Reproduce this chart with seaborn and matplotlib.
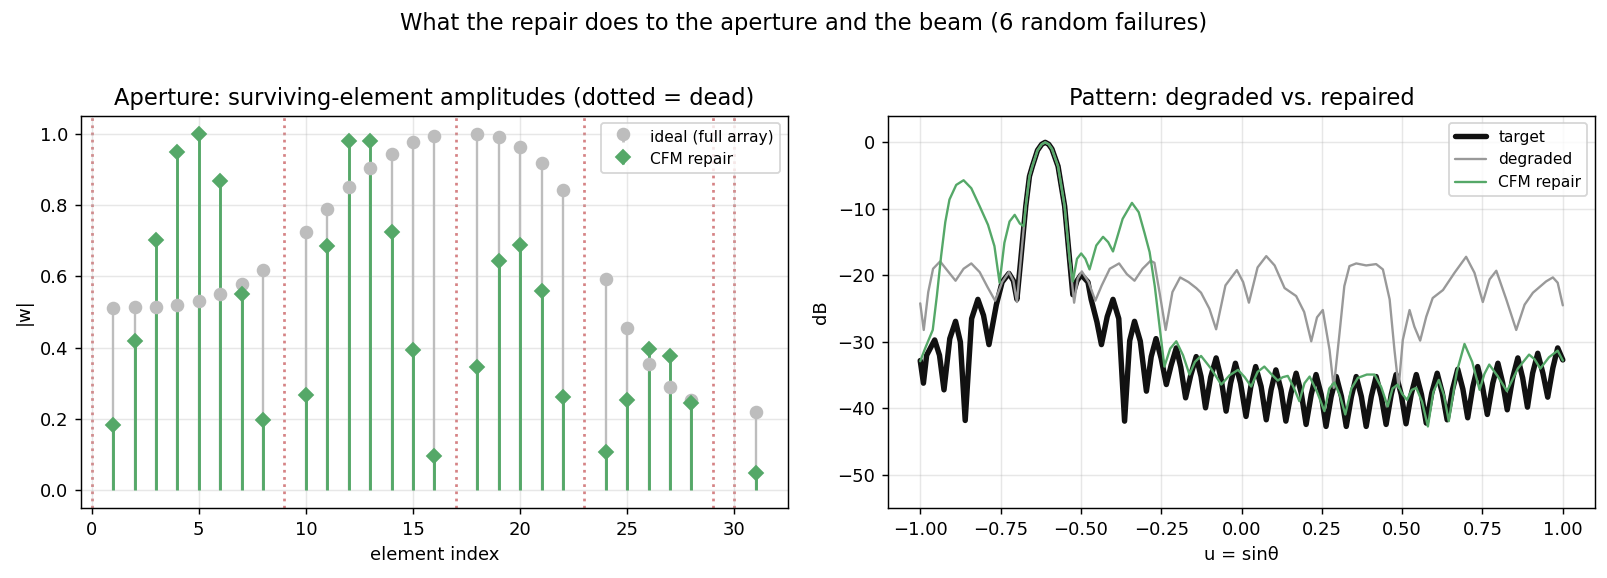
import matplotlib
matplotlib.use("Agg")
import matplotlib.pyplot as plt
import seaborn as sns

# --- aperture (left) ---
alive_idx = [1, 2, 3, 4, 5, 6, 7, 8, 10, 11, 12, 13, 14, 15, 16, 18, 19, 20, 21, 22,
             24, 25, 26, 27, 28, 31]
ideal_amp = [0.511, 0.514, 0.514, 0.519, 0.530, 0.550, 0.579, 0.618, 0.725, 0.789,
             0.851, 0.904, 0.944, 0.975, 0.993, 1.000, 0.989, 0.963, 0.918, 0.843,
             0.592, 0.456, 0.353, 0.289, 0.253, 0.219]
cfm_amp = [0.183, 0.420, 0.703, 0.948, 1.000, 0.866, 0.551, 0.197, 0.267, 0.686,
           0.979, 0.979, 0.724, 0.394, 0.097, 0.347, 0.644, 0.687, 0.560, 0.262,
           0.108, 0.253, 0.397, 0.377, 0.246, 0.049]
dead_idx = [0, 9, 17, 23, 29, 30]

# --- patterns (right) ---
target_u = [-1.000, -0.990, -0.980, -0.955, -0.940, -0.926, -0.908, -0.890, -0.875, -0.860,
            -0.840, -0.8205, -0.803, -0.786, -0.763, -0.745, -0.724, -0.710, -0.699, -0.687,
            -0.6715, -0.660, -0.651, -0.635, -0.622, -0.611, -0.600, -0.590, -0.571, -0.5505,
            -0.535, -0.525,
            -0.512, -0.499, -0.478, -0.468, -0.450, -0.436, -0.418, -0.400, -0.382, -0.364,
            -0.348, -0.333, -0.315, -0.296, -0.281, -0.266, -0.250, -0.234, -0.219, -0.203,
            -0.189, -0.174, -0.158, -0.141, -0.126, -0.112, -0.096, -0.079, -0.064, -0.048,
            -0.034, -0.019, -0.003, 0.014, 0.029, 0.044, 0.061, 0.077, 0.092, 0.107,
            0.123, 0.138, 0.154, 0.170, 0.186, 0.201, 0.217, 0.232, 0.248, 0.263,
            0.279, 0.295, 0.311, 0.326, 0.342, 0.357, 0.373, 0.388, 0.404, 0.419,
            0.435, 0.450, 0.466, 0.481, 0.497, 0.512, 0.528, 0.544, 0.560, 0.575,
            0.592, 0.609, 0.625, 0.640, 0.657, 0.673, 0.689, 0.704, 0.720, 0.735,
            0.750, 0.765, 0.782, 0.798, 0.813, 0.827, 0.844, 0.860, 0.875, 0.890,
            0.906, 0.922, 0.938, 0.953, 0.969, 0.984, 1.000]
target_db = [-32.8, -36.2, -32.0, -29.7, -32.0, -37.2, -29.5, -26.9, -30.0, -41.8,
             -26.5, -23.6, -26.0, -30.4, -24.4, -21.0, -19.7, -20.8, -23.6, -17.6,
             -9.6, -5.1, -3.6, -1.2, -0.3, 0.0, -0.3, -1.0, -3.6, -9.6,
             -17.6, -22.9,
             -20.8, -19.9, -21.0, -23.6, -27.0, -30.4, -26.2, -23.6, -26.5, -41.9,
             -29.8, -26.9, -29.9, -37.4, -32.2, -29.5, -32.5, -36.4, -33.5, -30.9,
             -33.8, -38.4, -35.0, -32.2, -35.2, -39.9, -35.3, -32.4, -35.4, -40.4,
             -36.2, -33.2, -36.2, -41.2, -36.7, -33.7, -36.7, -41.7, -37.2, -34.2,
             -37.2, -41.9, -37.7, -34.7, -37.7, -42.4, -37.9, -34.9, -37.9, -42.7,
             -38.2, -35.2, -38.2, -42.7, -38.2, -35.2, -38.2, -42.7, -38.2, -35.2,
             -38.2, -42.4, -37.9, -34.9, -37.9, -42.3, -37.9, -34.9, -37.9, -42.2,
             -37.7, -34.7, -37.7, -41.7, -37.1, -34.1, -37.1, -41.4, -36.7, -33.7,
             -36.7, -40.9, -36.2, -33.2, -36.2, -40.2, -35.4, -32.4, -35.4, -39.8,
             -34.7, -31.7, -34.7, -38.3, -33.9, -30.9, -32.7]

degraded_u = [-1.000, -0.989, -0.975, -0.960, -0.938, -0.915, -0.890, -0.865, -0.841, -0.815,
              -0.790, -0.767, -0.745, -0.724, -0.710, -0.699, -0.687, -0.6715, -0.660, -0.651,
              -0.635, -0.622, -0.611, -0.600, -0.590, -0.571, -0.5505, -0.535, -0.521, -0.510,
              -0.497, -0.476,
              -0.455, -0.435, -0.410, -0.381, -0.357, -0.333, -0.308, -0.283, -0.271, -0.255,
              -0.236, -0.215, -0.191, -0.165, -0.141, -0.126, -0.100, -0.079, -0.050, -0.0145,
              0.005, 0.023, 0.050, 0.077, 0.103, 0.134, 0.170, 0.195, 0.217, 0.235,
              0.253, 0.274, 0.287, 0.305, 0.320, 0.336, 0.357, 0.388, 0.419, 0.440,
              0.461, 0.476, 0.489, 0.502, 0.523, 0.538, 0.556, 0.575, 0.595, 0.627,
              0.663, 0.699, 0.725, 0.751, 0.772, 0.793, 0.824, 0.855, 0.881, 0.907,
              0.948, 0.969, 0.984, 1.000]
degraded_db = [-24.2, -28.2, -22.5, -19.0, -17.9, -19.3, -20.8, -19.0, -18.2, -19.5,
               -21.8, -23.8, -21.0, -19.5, -20.8, -24.0, -17.6, -9.6, -5.1, -3.6,
               -1.2, -0.3, 0.0, -0.3, -1.0, -3.6, -9.6, -17.6, -24.1, -20.5,
               -19.4, -21.0,
               -23.8, -21.5, -19.0, -18.2, -19.8, -20.8, -19.0, -17.8, -18.1, -22.6,
               -28.2, -22.5, -20.3, -21.0, -21.9, -22.6, -25.0, -28.1, -21.5, -19.2,
               -21.0, -24.1, -18.8, -17.1, -18.5, -21.9, -23.1, -25.5, -29.9, -26.3,
               -25.2, -31.2, -36.9, -28.7, -21.6, -18.6, -18.2, -18.5, -18.3, -19.1,
               -23.6, -31.2, -36.9, -29.7, -25.2, -27.7, -29.8, -26.2, -23.4, -22.2,
               -19.6, -17.2, -19.6, -24.0, -20.6, -19.3, -23.6, -28.2, -24.4, -22.6,
               -20.9, -20.3, -21.1, -24.5]

repair_u = [-1.000, -0.985, -0.961, -0.948, -0.935, -0.922, -0.909, -0.888, -0.865, -0.841,
            -0.815, -0.789, -0.769, -0.753, -0.738, -0.722, -0.706, -0.690, -0.678, -0.6715,
            -0.660, -0.651, -0.635, -0.622, -0.611, -0.600, -0.590, -0.571, -0.5505, -0.535,
            -0.525, -0.512,
            -0.499, -0.486, -0.473, -0.452, -0.431, -0.415, -0.400, -0.370, -0.341, -0.320,
            -0.302, -0.286, -0.270, -0.255, -0.240, -0.222, -0.203, -0.182, -0.162, -0.145,
            -0.126, -0.095, -0.063, -0.037, -0.011, 0.010, 0.030, 0.050, 0.071, 0.092,
            0.113, 0.128, 0.144, 0.162, 0.180, 0.196, 0.212, 0.235, 0.258, 0.273,
            0.289, 0.306, 0.323, 0.342, 0.362, 0.390, 0.414, 0.435, 0.455, 0.470,
            0.486, 0.500, 0.515, 0.530, 0.544, 0.562, 0.580, 0.597, 0.614, 0.630,
            0.645, 0.670, 0.694, 0.718, 0.741, 0.756, 0.771, 0.798, 0.826, 0.860,
            0.895, 0.912, 0.930, 0.957, 0.984, 1.000]
repair_db = [-32.9, -31.0, -28.2, -23.0, -17.1, -12.0, -8.6, -6.4, -5.7, -6.9,
             -9.6, -12.4, -15.6, -21.1, -15.1, -11.9, -10.9, -12.2, -12.6, -9.6,
             -5.1, -3.6, -1.2, -0.3, 0.0, -0.3, -1.0, -3.6, -9.6, -17.6,
             -20.9, -17.5,
             -16.7, -17.5, -19.1, -15.5, -14.2, -15.0, -16.4, -11.5, -9.1, -10.5,
             -13.6, -16.5, -21.6, -27.7, -33.7, -31.0, -29.9, -32.0, -34.9, -33.0,
             -32.1, -34.0, -36.4, -35.0, -34.2, -35.3, -36.7, -34.5, -33.7, -34.8,
             -35.8, -35.3, -35.1, -36.8, -38.9, -36.2, -35.2, -37.5, -40.4, -37.0,
             -36.1, -38.0, -40.9, -37.0, -35.4, -34.9, -34.9, -36.8, -39.7, -37.0,
             -36.4, -37.8, -38.7, -37.2, -36.9, -39.0, -42.7, -37.5, -35.7, -38.0,
             -41.9, -34.5, -30.3, -33.0, -37.2, -34.8, -33.4, -35.2, -37.4, -34.0,
             -31.9, -32.6, -34.0, -32.3, -31.3, -32.8]

GREEN = "#55a868"
GRAY_IDEAL = "#bdbdbd"
DEAD_RED = "#c44e52"

fig, (ax1, ax2) = plt.subplots(1, 2, figsize=(1607 / 130, 578 / 130), dpi=130)
fig.subplots_adjust(left=0.0504, right=0.9925, top=0.7998, bottom=0.1206, wspace=0.1418)

# left: stems
for d in dead_idx:
    ax1.axvline(d, color=DEAD_RED, ls=":", lw=1.5, alpha=0.7, zorder=1)

ml, sl, bl = ax1.stem(alive_idx, ideal_amp, basefmt=" ", label="ideal (full array)")
plt.setp(sl, color=GRAY_IDEAL, lw=1.3, zorder=2)
plt.setp(ml, color=GRAY_IDEAL, markersize=6.5, zorder=3)
ml2, sl2, bl2 = ax1.stem(alive_idx, cfm_amp, markerfmt="D", basefmt=" ", label="CFM repair")
plt.setp(sl2, color=GREEN, lw=1.6, zorder=2.5)
plt.setp(ml2, color=GREEN, markersize=5.5, zorder=3.5)

ax1.set_xlim(-0.5, 32.5)
ax1.set_ylim(-0.05, 1.05)
ax1.grid(alpha=0.3)
ax1.set_xlabel("element index")
ax1.set_ylabel("|w|")
ax1.set_title("Aperture: surviving-element amplitudes (dotted = dead)", fontsize=12.5)
ax1.legend(loc="upper right", fontsize=8.5)

# right: patterns
line_kw = dict(sort=False, estimator=None, solid_joinstyle="round", solid_capstyle="round")
sns.lineplot(x=target_u, y=target_db, ax=ax2, color="#111111", lw=3.0,
             label="target", **line_kw)
sns.lineplot(x=degraded_u, y=degraded_db, ax=ax2, color="#999999", lw=1.3,
             label="degraded", **line_kw)
sns.lineplot(x=repair_u, y=repair_db, ax=ax2, color=GREEN, lw=1.3,
             label="CFM repair", **line_kw)
ax2.set_xlim(-1.1, 1.1)
ax2.set_ylim(-55, 4)
ax2.grid(alpha=0.3)
ax2.set_xlabel("u = sinθ")
ax2.set_ylabel("dB")
ax2.set_title("Pattern: degraded vs. repaired", fontsize=12.5)
ax2.legend(loc="upper right", fontsize=8.5)

fig.suptitle("What the repair does to the aperture and the beam (6 random failures)", fontsize=12.5)

fig.savefig("out.png", dpi=130)
